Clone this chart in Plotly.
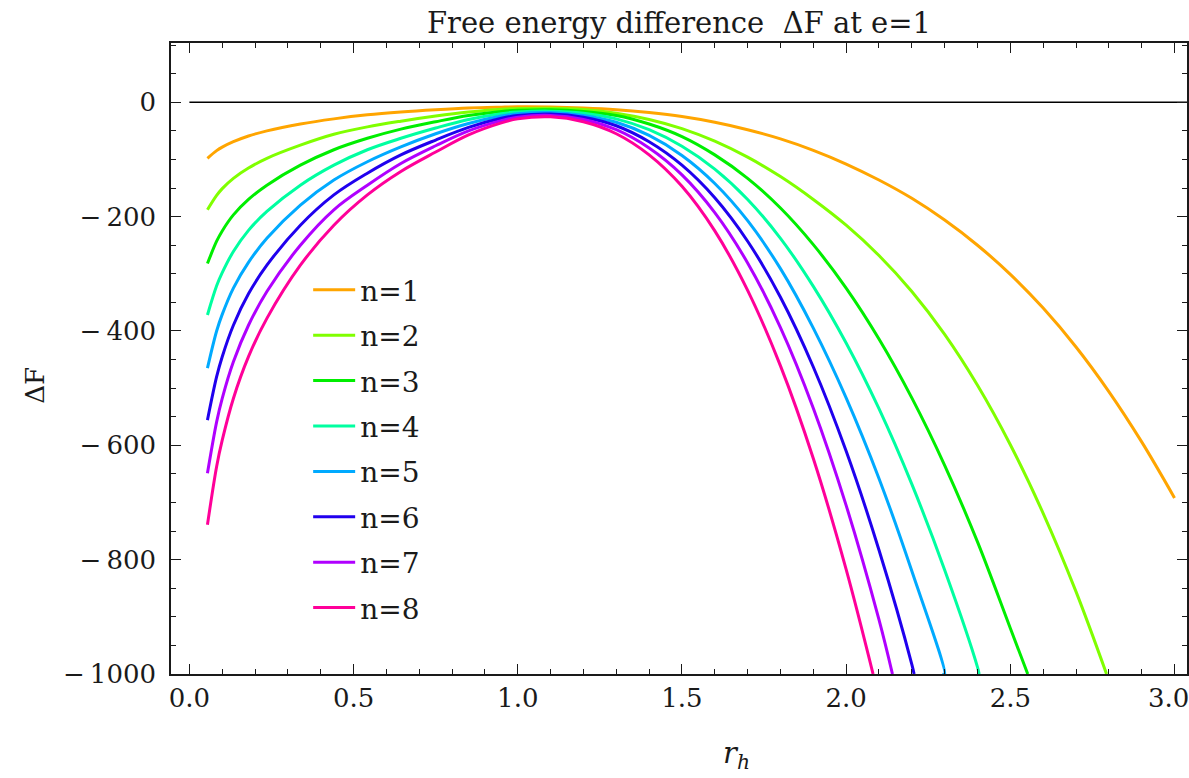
import plotly.graph_objects as go

# ---- data ----
R_GRID = [0.055, 0.083, 0.1, 0.134, 0.18, 0.236, 0.338, 0.44, 0.542, 0.644, 0.75, 0.85,
          0.95, 1.0, 1.1, 1.2, 1.3, 1.4, 1.5, 1.6, 1.7, 1.8, 1.9, 2.0, 2.1, 2.2, 2.3,
          2.4, 2.5, 2.6, 2.7, 2.8, 2.9]

F_N1 = [-98, -84.6, -78.5, -69, -59, -50, -38, -29, -22, -17, -13, -10, -8.5, -8, -8.3,
        -10, -13, -18, -25, -35, -48, -64, -84, -108, -136, -168, -206, -250, -301,
        -360, -428, -506, -594]
F_N2 = [-188, -163, -151, -133, -115, -98, -75, -56, -43, -33, -24, -17, -12, -11, -10.5,
        -12.5, -19, -30, -46, -68, -96, -130, -170, -215, -268, -331, -406, -495, -599,
        -719, -856]
F_N3 = [-282, -243, -225, -197, -170, -145, -110, -83, -63, -47, -34, -23, -16, -14, -13,
        -16, -23, -38, -60, -92, -133, -185, -249, -325, -414, -517, -635, -769, -920]
F_N4 = [-372, -321, -298, -261, -224, -191, -145, -110, -83, -63, -45, -30, -20, -17, -15.5,
        -19, -29, -48, -77, -117, -170, -238, -322, -421, -536, -668, -818, -988]
F_N5 = [-465, -400, -371, -325, -280, -238, -180, -136, -104, -78, -55, -37, -24, -20, -18,
        -23, -35, -58, -93, -142, -207, -291, -395, -517, -658, -820, -1002]
F_N6 = [-556, -480, -445, -390, -335, -285, -215, -162, -124, -92, -66, -44, -28, -23, -20.5,
        -26, -41, -69, -110, -167, -243, -341, -463, -610, -783, -983]
F_N7 = [-649, -559, -518, -454, -390, -331, -250, -188, -145, -107, -76, -50, -32, -26, -23,
        -30, -48, -80, -127, -193, -281, -394, -535, -705, -905]
F_N8 = [-739, -637, -591, -518, -445, -378, -285, -215, -162, -121, -87, -57, -36, -29, -25.5,
        -34, -55, -92, -147, -225, -329, -461, -623, -817]

SERIES = [F_N1, F_N2, F_N3, F_N4, F_N5, F_N6, F_N7, F_N8]
LABELS = ["n=1", "n=2", "n=3", "n=4", "n=5", "n=6", "n=7", "n=8"]
R_END = [3.0, 2.793, 2.553, 2.405, 2.292, 2.207, 2.141, 2.082]
F_END = [-692, -1000, -1000, -1000, -1000, -1000, -1000, -1000]
COLORS = ["#FFA500", "#80FF00", "#00EE00", "#00FFA0", "#00AAFF", "#2000EE", "#B000FF", "#FF0099"]

X_TICKS = [0.0, 0.5, 1.0, 1.5, 2.0, 2.5, 3.0]
X_TICKTEXT = ["0.0", "0.5", "1.0", "1.5", "2.0", "2.5", "3.0"]
Y_TICKS = [0, -200, -400, -600, -800, -1000]
Y_TICKTEXT = ["0", "\u2212\u2009200", "\u2212\u2009400", "\u2212\u2009600", "\u2212\u2009800",
              "\u2212\u20091000"]

FONT = "DejaVu Serif"
INK = "#1a1a1a"

fig = go.Figure()
for i, (vals, lab, col) in enumerate(zip(SERIES, LABELS, COLORS)):
    xs = R_GRID[:len(vals)] + [R_END[i]]
    ys = vals + [F_END[i]]
    fig.add_trace(go.Scatter(
        x=xs, y=ys, mode="lines", name=lab, legendgroup=lab,
        line=dict(color=col, width=3, shape="spline", smoothing=1.0),
    ))

# zero reference line
fig.add_shape(type="line", xref="x", yref="y", x0=0, x1=3.04, y0=0, y1=0,
              line=dict(color="black", width=1.5), layer="below")

axis_common = dict(
    showline=True, linecolor=INK, linewidth=1.5, mirror="ticks",
    ticks="inside", ticklen=10, tickcolor=INK, tickwidth=1.2,
    showgrid=False, zeroline=False, automargin=False,
    tickfont=dict(family=FONT, size=26, color=INK),
)

# last x label is placed as an annotation so it stays inside the page edge
fig.update_xaxes(
    range=[-0.056, 3.038], tickvals=X_TICKS, ticktext=X_TICKTEXT[:-1] + [""],
    minor=dict(dtick=0.1, tick0=0, ticks="inside", ticklen=5, tickcolor=INK, tickwidth=1),
    **axis_common,
)
fig.update_yaxes(
    range=[-1000, 103.7], tickvals=Y_TICKS, ticktext=Y_TICKTEXT,
    ticklabelstandoff=8,
    minor=dict(dtick=50, tick0=0, ticks="inside", ticklen=5, tickcolor=INK, tickwidth=1),
    **axis_common,
)

fig.update_layout(
    width=1189, height=778,
    margin=dict(l=171, r=2, t=43, b=104),
    paper_bgcolor="white", plot_bgcolor="white",
    title=dict(text="Free energy difference  \u0394F at e=1", x=0.5, xanchor="center",
               xref="paper", y=0.97, yanchor="middle",
               font=dict(family=FONT, size=29, color=INK)),
    legend=dict(x=0.135, y=0.648, xanchor="left", yanchor="top",
                font=dict(family=FONT, size=28, color=INK),
                bgcolor="rgba(0,0,0,0)", tracegroupgap=6, itemwidth=42),
    showlegend=True,
    annotations=[
        dict(text="\u0394F", xref="paper", yref="paper", x=-0.134, y=0.458,
             xanchor="center", yanchor="middle",
             showarrow=False, textangle=-90, font=dict(family=FONT, size=26, color=INK)),
        dict(text="<i>r<sub>h</sub></i>", xref="paper", x=0.557, yref="paper", y=-0.128,
             xanchor="center", yanchor="middle",
             showarrow=False, font=dict(family=FONT, size=29, color=INK)),
        dict(text=X_TICKTEXT[-1], xref="x", x=X_TICKS[-1], yref="paper", y=-0.038,
             xanchor="center", yanchor="middle", xshift=-6,
             showarrow=False, font=dict(family=FONT, size=26, color=INK)),
    ],
)

fig.write_html(
    "out.html",
    config={"displayModeBar": False},
    post_script="document.body.style.margin='0';document.body.style.overflow='hidden';",
)
